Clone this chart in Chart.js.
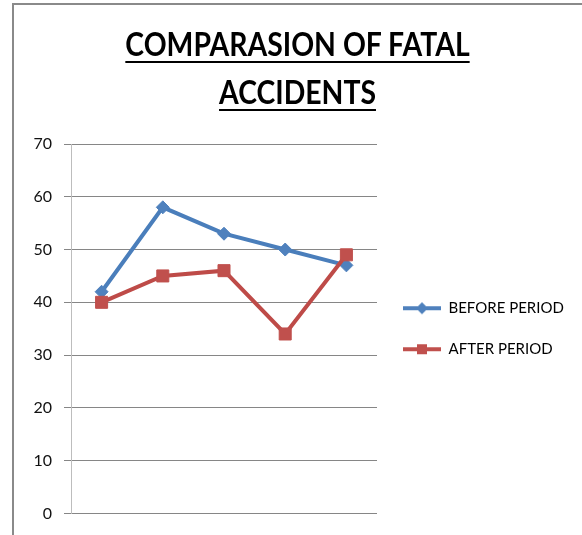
<!DOCTYPE html>
<html>
<head>
<meta charset="utf-8">
<title>Comparasion of fatal accidents</title>
<script src="https://cdn.jsdelivr.net/npm/chart.js@4.4.1/dist/chart.umd.min.js"></script>
<style>
    html, body { margin: 0; padding: 0; background: #fff; }
    #wrap { position: relative; width: 582px; height: 535px; overflow: hidden; }
    #frame {
        position: absolute; left: 12px; top: 3px; width: 640px; height: 640px;
        border-top: 2px solid #8a8a8a; border-left: 2px solid #8a8a8a;
    }
    #title {
        position: absolute; left: 13px; width: 569px; top: 20px;
        text-align: center; color: #000;
        font: bold 32px Lato, sans-serif; line-height: 48px;
        text-decoration: underline; text-decoration-thickness: 2px; text-underline-offset: 5px;
        transform-origin: 50% 0;
    }
    #chart { position: absolute; left: 0; top: 0; }
</style>
</head>
<body>
<div id="wrap">
    <div id="frame"></div>
    <canvas id="chart" width="582" height="535"></canvas>
    <div id="title">COMPARASION OF FATAL<br>ACCIDENTS</div>
</div>
<script>
// --- data ---
const categories = ['1', '2', '3', '4', '5'];
const beforePeriod = [42, 58, 53, 50, 47];
const afterPeriod = [40, 45, 46, 34, 49];
const yTicks = [0, 10, 20, 30, 40, 50, 60, 70];
const seriesNames = ['BEFORE PERIOD', 'AFTER PERIOD'];

const BLUE_LINE = '#4a7ebb', BLUE = '#4f81bd';
const RED_LINE = '#be4b48', RED = '#c0504d';

// squeeze the title like the narrow original font
(function fitTitle() {
    const g = document.createElement('canvas').getContext('2d');
    g.font = 'bold 32px Lato, sans-serif';
    const w = g.measureText('COMPARASION OF FATAL').width;
    document.getElementById('title').style.transform = 'scaleX(' + (345 / w) + ')';
})();

// small line + marker picture for the legend
function legendIcon(color, shape) {
    const c = document.createElement('canvas');
    c.width = 38; c.height = 14;
    const g = c.getContext('2d');
    g.strokeStyle = color;
    g.lineWidth = 4;
    g.beginPath(); g.moveTo(0, 7); g.lineTo(38, 7); g.stroke();
    g.fillStyle = color;
    if (shape === 'diamond') {
        g.beginPath();
        g.moveTo(19, 1); g.lineTo(25, 7); g.lineTo(19, 13); g.lineTo(13, 7);
        g.closePath(); g.fill();
    } else {
        g.fillRect(14, 2, 10, 10);
    }
    return c;
}
const icons = [legendIcon(BLUE, 'diamond'), legendIcon(RED, 'square')];

// the right legend is capped at a quarter of the free width (two side boxes),
// so pick the right padding that puts the plot's right edge at x = 377
const PLOT_RIGHT = 377;
const padRight = 582 - PLOT_RIGHT * 4 / 3;

// let the legend use the rest of the canvas so its text is not clipped
const wideLegend = {
    id: 'wideLegend',
    afterLayout(chart) {
        const lg = chart.legend;
        if (!lg) return;
        lg.right = chart.width;
        lg.width = lg.right - lg.left;
    }
};

Chart.defaults.font.family = 'Lato, sans-serif';
Chart.defaults.color = '#000';

new Chart(document.getElementById('chart'), {
    type: 'line',
    data: {
        labels: categories,
        datasets: [{
            label: seriesNames[0],
            data: beforePeriod,
            borderColor: BLUE_LINE,
            backgroundColor: BLUE,
            borderWidth: 4,
            pointStyle: 'rectRot',
            pointRadius: 6.5,
            pointBorderWidth: 1,
            pointBorderColor: BLUE,
            pointBackgroundColor: BLUE,
            tension: 0,
            order: 1
        }, {
            label: seriesNames[1],
            data: afterPeriod,
            borderColor: RED_LINE,
            backgroundColor: RED,
            borderWidth: 4,
            pointStyle: 'rect',
            pointRadius: 8.5,
            pointBorderWidth: 1,
            pointBorderColor: RED,
            pointBackgroundColor: RED,
            tension: 0,
            order: 0
        }]
    },
    options: {
        responsive: false,
        animation: false,
        layout: { padding: { left: 0, top: 144, bottom: 21, right: padRight } },
        scales: {
            x: {
                display: false,
                offset: true
            },
            y: {
                min: yTicks[0],
                max: yTicks[yTicks.length - 1],
                afterFit: s => { s.width = 71; },
                afterBuildTicks: s => { s.ticks = yTicks.map(v => ({ value: v })); },
                ticks: {
                    padding: 12,
                    color: '#111',
                    font: { size: 16 }
                },
                grid: {
                    color: '#868686',
                    lineWidth: 1,
                    tickLength: 7,
                    drawTicks: true
                },
                border: { color: '#bdbdbd', width: 1 }
            }
        },
        plugins: {
            title: { display: false },
            tooltip: { enabled: false },
            legend: {
                position: 'right',
                align: 'center',
                fullSize: false,
                labels: {
                    usePointStyle: true,
                    pointStyleWidth: 38,
                    padding: 26,
                    color: '#000',
                    font: { size: 15 },
                    generateLabels: chart => {
                        const items = Chart.defaults.plugins.legend.labels.generateLabels(chart);
                        items.sort((a, b) => a.datasetIndex - b.datasetIndex);
                        items.forEach(it => { it.pointStyle = icons[it.datasetIndex]; });
                        return items;
                    }
                }
            }
        }
    },
    plugins: [wideLegend]
});
</script>
</body>
</html>
